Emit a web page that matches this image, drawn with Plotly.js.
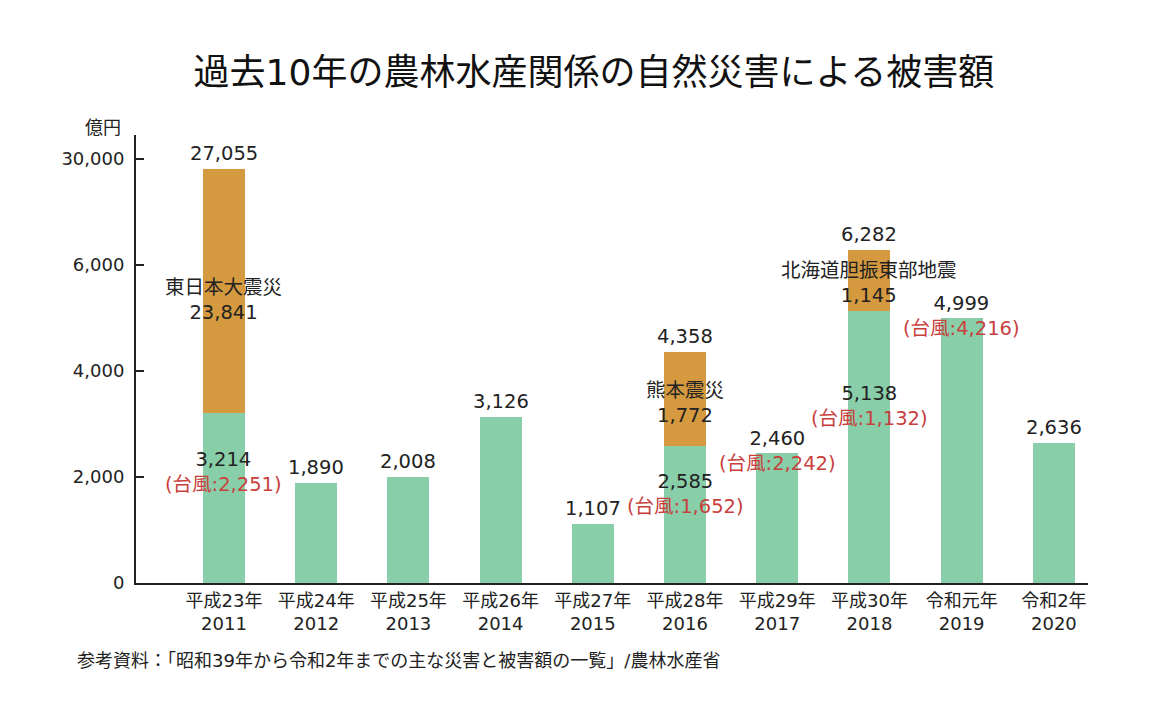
<!DOCTYPE html>
<html>
<head>
<meta charset="utf-8">
<script src="https://cdn.plot.ly/plotly-3.0.1.min.js"></script>
<style>html,body{margin:0;padding:0;background:#fff;}#chart{width:1152px;height:720px;}</style>
</head>
<body>
<div id="chart"></div>
<script>
// ---- data ----
const eraLabels = ["平成23年","平成24年","平成25年","平成26年","平成27年","平成28年","平成29年","平成30年","令和元年","令和2年"];
const years = ["2011","2012","2013","2014","2015","2016","2017","2018","2019","2020"];
const baseDamage = [3214, 1890, 2008, 3126, 1107, 2585, 2460, 5138, 4999, 2636];
const quakeDamage = [23841, 0, 0, 0, 0, 1772, 0, 1145, 0, 0];
const totalDamage = [27055, 1890, 2008, 3126, 1107, 4358, 2460, 6282, 4999, 2636];
const typhoonDamage = [2251, null, null, null, null, 1652, 2242, 1132, 4216, null];
const quakeNames = ["東日本大震災", "", "", "", "", "熊本震災", "", "北海道胆振東部地震", "", ""];
const yTickReal = [0, 2000, 4000, 6000, 30000];

// ---- broken axis scale: linear up to 6500, compressed 6500..30000 -> 6500..8000 ----
const BREAK = 6500, TOP_REAL = 30000, TOP_DISP = 8000;
function brk(v) {
  if (v <= BREAK) return v;
  return BREAK + (v - BREAK) / (TOP_REAL - BREAK) * (TOP_DISP - BREAK);
}
const fmt = v => v.toLocaleString("en-US");

const FONT = "DejaVu Sans, Noto Sans CJK JP, sans-serif";
const TXT = "#222";
const RED = "#c8403c";
const GREEN = "#88cfa9";
const ORANGE = "#d5993f";

const idx = baseDamage.map((_, i) => i);
const greenDisp = baseDamage.map(brk);
const orangeDisp = quakeDamage.map((q, i) => q > 0 ? brk(baseDamage[i] + q) - brk(baseDamage[i]) : 0);

const traces = [
  {type: "bar", x: idx, y: greenDisp, marker: {color: GREEN, line: {width: 0}}, hoverinfo: "skip"},
  {type: "bar", x: idx, y: orangeDisp, marker: {color: ORANGE, line: {width: 0}}, hoverinfo: "skip"}
];

const ann = [];
idx.forEach(i => {
  const g = baseDamage[i], q = quakeDamage[i], t = totalDamage[i], ty = typhoonDamage[i];
  const redPart = ty != null ? `<br><span style="color:${RED}">(台風:${fmt(ty)})</span>` : "";
  if (q > 0) {
    const topD = brk(g + q);
    ann.push({x: i, y: topD, text: fmt(t), yanchor: "bottom", yshift: 2});
    ann.push({x: i, y: brk(g) + (topD - brk(g)) * 0.46, text: `${quakeNames[i]}<br>${fmt(q)}`, yanchor: "middle"});
    ann.push({x: i, y: brk(g) * 0.65, text: fmt(g) + redPart, yanchor: "middle"});
  } else if (ty != null) {
    ann.push({x: i, y: brk(g), text: fmt(g) + redPart, yanchor: "middle", yshift: 2});
  } else {
    ann.push({x: i, y: brk(g), text: fmt(g), yanchor: "bottom", yshift: 2});
  }
});
ann.forEach(a => { a.xref = "x"; a.yref = "y"; a.showarrow = false; a.xanchor = "center"; a.align = "center"; a.font = {family: FONT, size: 19.5, color: TXT}; });

ann.push({xref: "paper", yref: "paper", x: -0.0137, y: 1.0167, xanchor: "right", yanchor: "middle", showarrow: false,
  text: "億円", font: {family: FONT, size: 18, color: TXT}});
ann.push({xref: "paper", yref: "paper", x: -0.064, y: -0.172, xanchor: "left", yanchor: "middle", showarrow: false,
  text: "参考資料：「昭和39年から令和2年までの主な災害と被害額の一覧」/農林水産省", font: {family: FONT, size: 18, color: TXT}});

const layout = {
  width: 1152, height: 720,
  margin: {l: 136, r: 64, t: 135, b: 137},
  paper_bgcolor: "#fff", plot_bgcolor: "#fff",
  showlegend: false,
  barmode: "stack",
  bargap: 0.545,
  title: {text: "過去10年の農林水産関係の自然災害による被害額", font: {family: FONT, size: 36, color: "#111"},
          x: 0.5156, xref: "container", xanchor: "center", y: 0.9, yref: "container", yanchor: "middle"},
  xaxis: {
    type: "linear", range: [-0.954, 9.37],
    tickvals: idx, ticktext: idx.map(i => eraLabels[i] + "<br>" + years[i]),
    showline: true, linewidth: 2, linecolor: "#222", ticks: "", showgrid: false, zeroline: false,
    tickfont: {family: FONT, size: 18, color: TXT}
  },
  yaxis: {
    range: [0, 8450],
    tickvals: yTickReal.map(brk), ticktext: yTickReal.map(fmt),
    showline: true, linewidth: 2, linecolor: "#222", ticks: "inside", ticklen: 8, tickwidth: 1.5, tickcolor: "#222",
    showgrid: false, zeroline: false, ticklabelstandoff: 6,
    tickfont: {family: FONT, size: 18, color: TXT}
  },
  annotations: ann
};

Plotly.newPlot("chart", traces, layout, {staticPlot: true, displayModeBar: false});
</script>
</body>
</html>
